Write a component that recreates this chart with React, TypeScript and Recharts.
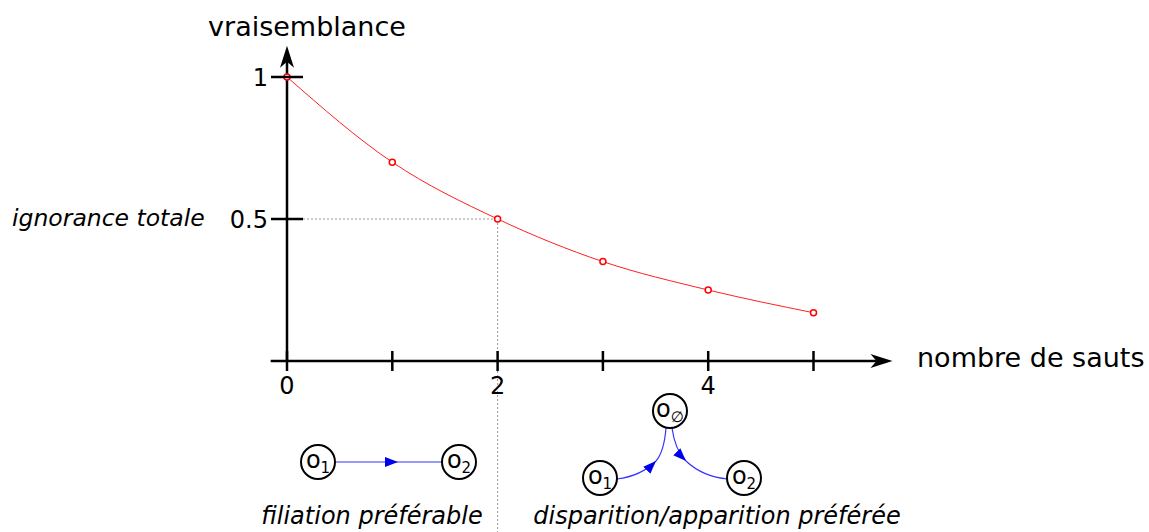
import React from 'react';
import { LineChart, Line, XAxis, YAxis, ReferenceLine } from 'recharts';

// nombre de sauts -> vraisemblance
const jumps = [0, 1, 2, 3, 4, 5];
const likelihood = [1, 0.7, 0.5, 0.35, 0.25, 0.17];

const xTicks = [0, 1, 2, 3, 4, 5];
const xTickLabels = ['0', '', '2', '', '4', ''];
const yTicks = [0, 0.5, 1];
const yTickLabels = ['', '0.5', '1'];

const data = jumps.map((x, i) => ({ x, v: likelihood[i] }));

const FONT = '"DejaVu Sans", Verdana, sans-serif';
const W = 1149;
const H = 532;

const XTick = (props: any) => {
  const { x, y, payload } = props;
  const label = xTickLabels[xTicks.indexOf(payload.value)];
  return (
    <g>
      <line x1={x} x2={x} y1={y - 10} y2={y + 10} stroke="#000" strokeWidth={2.5} />
      {label ? (
        <text x={x} y={y + 33} textAnchor="middle" fontSize={24} fontFamily={FONT} fill="#000">
          {label}
        </text>
      ) : null}
    </g>
  );
};

const YTick = (props: any) => {
  const { x, y, payload } = props;
  const label = yTickLabels[yTicks.indexOf(payload.value)];
  if (!label) return <g />;
  return (
    <g>
      <line x1={x - 16} x2={x + 16} y1={y} y2={y} stroke="#000" strokeWidth={2.5} />
      <text x={x - 19} y={y + 9} textAnchor="end" fontSize={24} fontFamily={FONT} fill="#000">
        {label}
      </text>
    </g>
  );
};

// axis line ending with an arrow head
const ArrowAxis = (props: any) => {
  const { x1, y1, x2, y2 } = props;
  const ang = Math.atan2(y2 - y1, x2 - x1);
  const ux = Math.cos(ang);
  const uy = Math.sin(ang);
  const px = -uy;
  const py = ux;
  const len = 22;
  const hw = 7;
  const notch = 6;
  const bx = x2 - ux * len;
  const by = y2 - uy * len;
  const a = `${bx + px * hw},${by + py * hw}`;
  const b = `${bx - px * hw},${by - py * hw}`;
  const nx = bx + ux * notch;
  const ny = by + uy * notch;
  return (
    <g>
      <line x1={x1} y1={y1} x2={nx} y2={ny} stroke="#000" strokeWidth={2.5} />
      <path d={`M${x2},${y2} L${a} L${nx},${ny} L${b} Z`} fill="#000" />
    </g>
  );
};

const Node = ({ cx, cy, sub }: { cx: number; cy: number; sub: string }) => (
  <g>
    <circle cx={cx} cy={cy} r={17} fill="#fff" stroke="#000" strokeWidth={2} />
    <text x={cx} y={cy + 6} textAnchor="middle" fontSize={24} fontFamily={FONT} fill="#000">
      o
      <tspan fontSize={15} dy={5}>
        {sub}
      </tspan>
    </text>
  </g>
);

const Diagrams = () => (
  <svg
    width={W}
    height={H}
    style={{ position: 'absolute', left: 0, top: 0, pointerEvents: 'none' }}
  >
    <defs>
      <marker
        id="blueArrow"
        markerUnits="userSpaceOnUse"
        markerWidth={14}
        markerHeight={10}
        refX={13}
        refY={5}
        orient="auto"
      >
        <path d="M0,0 L13,5 L0,10 Z" fill="#0000ee" />
      </marker>
    </defs>

    <text x={307} y={36} textAnchor="middle" fontSize={27} fontFamily={FONT} fill="#000">
      vraisemblance
    </text>
    <text x={917} y={367} fontSize={27} fontFamily={FONT} fill="#000">
      nombre de sauts
    </text>
    <text x={12} y={226} fontSize={23.5} fontStyle="italic" fontFamily={FONT} fill="#000">
      ignorance totale
    </text>

    {/* filiation */}
    <line x1={336} y1={462} x2={398} y2={462} stroke="#3333ff" strokeWidth={1.2} markerEnd="url(#blueArrow)" />
    <line x1={398} y1={462} x2={442} y2={462} stroke="#3333ff" strokeWidth={1.2} />
    <Node cx={318} cy={462} sub="1" />
    <Node cx={459} cy={462} sub="2" />
    <text x={372} y={524} textAnchor="middle" fontSize={24} fontStyle="italic" fontFamily={FONT} fill="#000">
      filiation préférable
    </text>

    {/* disparition / apparition */}
    <path d="M617,479 Q641,476 656,461" fill="none" stroke="#3333ff" strokeWidth={1.2} markerEnd="url(#blueArrow)" />
    <path d="M656,461 Q664,452 666,428" fill="none" stroke="#3333ff" strokeWidth={1.2} />
    <path d="M672,428 Q675,450 686,461" fill="none" stroke="#3333ff" strokeWidth={1.2} markerEnd="url(#blueArrow)" />
    <path d="M686,461 Q703,477 728,479" fill="none" stroke="#3333ff" strokeWidth={1.2} />
    <Node cx={670} cy={411} sub="∅" />
    <Node cx={600} cy={478} sub="1" />
    <Node cx={744} cy={478} sub="2" />
    <text x={717} y={524} textAnchor="middle" fontSize={24} fontStyle="italic" fontFamily={FONT} fill="#000">
      disparition/apparition préférée
    </text>
  </svg>
);

export default function App() {
  return (
    <div style={{ position: 'absolute', left: 0, top: 0, width: W, height: H, background: '#fff' }}>
      <LineChart width={W} height={H} data={data} margin={{ top: 77, right: 335.5, left: 227, bottom: 141 }}>
        <XAxis
          type="number"
          dataKey="x"
          domain={[0, 5]}
          ticks={xTicks}
          axisLine={false}
          tickLine={false}
          tickSize={0}
          tickMargin={0}
          height={30}
          tick={<XTick />}
          interval={0}
        />
        <YAxis
          type="number"
          domain={[0, 1]}
          ticks={yTicks}
          axisLine={false}
          tickLine={false}
          tickSize={0}
          tickMargin={0}
          width={60}
          tick={<YTick />}
          interval={0}
        />
        <ReferenceLine
          segment={[{ x: 0, y: 0.5 }, { x: 2, y: 0.5 }]}
          ifOverflow="visible"
          stroke="#999"
          strokeWidth={1}
          strokeDasharray="2 2"
        />
        <ReferenceLine
          segment={[{ x: 2, y: 0.5 }, { x: 2, y: -0.61 }]}
          ifOverflow="visible"
          stroke="#999"
          strokeWidth={1}
          strokeDasharray="2 2"
        />
        <ReferenceLine
          segment={[{ x: -0.155, y: 0 }, { x: 5.75, y: 0 }]}
          ifOverflow="visible"
          shape={ArrowAxis}
        />
        <ReferenceLine
          segment={[{ x: 0, y: 0 }, { x: 0, y: 1.11 }]}
          ifOverflow="visible"
          shape={ArrowAxis}
        />
        <Line
          type="monotone"
          dataKey="v"
          stroke="#ff2020"
          strokeWidth={1}
          dot={{ r: 3, stroke: '#ff0000', strokeWidth: 1.5, fill: '#fff' }}
          activeDot={false}
          isAnimationActive={false}
        />
      </LineChart>
      <Diagrams />
    </div>
  );
}
